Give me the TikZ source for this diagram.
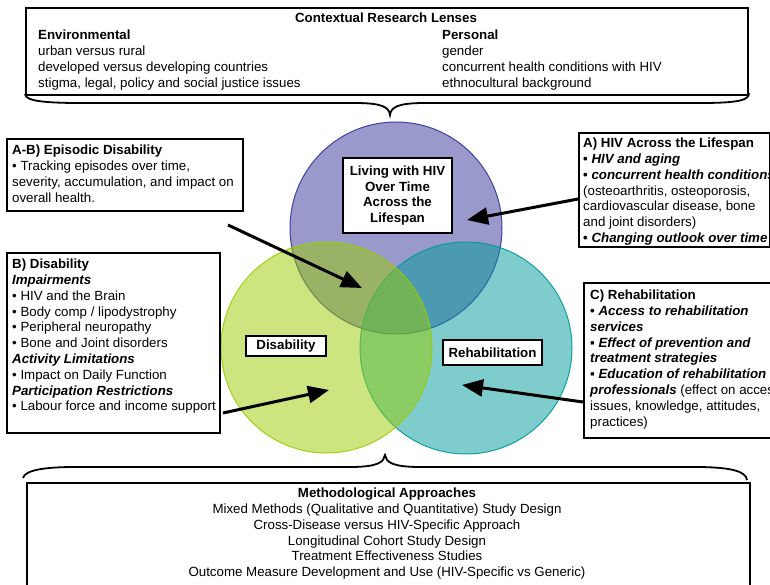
\documentclass[tikz,border=0pt]{standalone}
\usepackage{fontspec}
\setmainfont{Liberation Sans}
\usetikzlibrary{arrows.meta}
\definecolor{pur}{RGB}{51,51,153}
\definecolor{grn}{RGB}{153,204,0}
\definecolor{tea}{RGB}{0,153,153}
\begin{document}
\begin{tikzpicture}[x=1pt,y=-1pt,
  every node/.style={font=\fontsize{13.3}{15.8}\selectfont, inner sep=0pt},
  txt/.style={anchor=north west, align=left},
  frame/.style={draw=black, line width=1.8pt, anchor=north west},
  lbl/.style={draw=black, line width=1.8pt, fill=white, align=center, font=\fontsize{13.3}{15.8}\selectfont\bfseries},
  venn/.style={fill opacity=0.5, draw opacity=0.9, line width=1pt},
  arr/.style={line width=3pt, -{Triangle[length=21pt,width=17pt]}},
  brace/.style={line width=1.8pt}
]
\useasboundingbox (0,0) rectangle (770,585);
\clip (0,0) rectangle (770,585);

% Venn circles
\path[venn, fill=pur, draw=pur] (396,228) circle[radius=106pt];
\path[venn, fill=tea, draw=tea] (466,348) circle[radius=106pt];
\path[venn, fill=grn, draw=grn] (326.5,347.5) circle[radius=105.5pt];

% frames
\node[frame, minimum width=722pt, minimum height=87pt] (topbox) at (25,7) {};
\node[frame, minimum width=236pt, minimum height=72pt] (abbox) at (6,138) {};
\node[frame, minimum width=213pt, minimum height=180pt] (bbox) at (6,252) {};
\node[frame, minimum width=191pt, minimum height=114pt] (abox) at (578,132) {};
\node[frame, minimum width=217pt, minimum height=155pt] (cbox) at (583,282) {};
\node[frame, minimum width=723pt, minimum height=138pt] (botbox) at (26,482) {};

% braces
\draw[brace] (25,94) .. controls (25,101) and (45,103) .. (80,103) -- (355,103)
  .. controls (382,103) and (389,107) .. (390,115)
  .. controls (391,107) and (398,103) .. (425,103) -- (700,103)
  .. controls (740,103) and (749,100) .. (749,93);
\draw[brace] (23,478) .. controls (25,470) and (45,467) .. (75,467) -- (350,467)
  .. controls (378,467) and (384,462) .. (385,455)
  .. controls (386,462) and (392,467) .. (420,467) -- (695,467)
  .. controls (730,467) and (746,471) .. (747,480);

% top box text
\node[anchor=base, font=\fontsize{13.3}{15.8}\selectfont\bfseries] (ttl) at (386,23) {Contextual Research Lenses};
\node[txt] (env) at (38,28.4) {\strut\textbf{Environmental}\\urban versus rural\\developed versus developing countries\\stigma, legal, policy and social justice issues};
\node[txt] (pers) at (442,28.4) {\strut\textbf{Personal}\\gender\\concurrent health conditions with HIV\\ethnocultural background};

% side texts
\node[txt] (abt) at (12,143.4) {\strut\textbf{A-B) Episodic Disability}\\• Tracking episodes over time,\\severity, accumulation, and impact on\\overall health.};
\node[txt] (bt) at (12,257.4) {\strut\textbf{B) Disability}\\\textbf{\textit{Impairments}}\\• HIV and the Brain\\• Body comp / lipodystrophy\\• Peripheral neuropathy\\• Bone and Joint disorders\\\textbf{\textit{Activity Limitations}}\\• Impact on Daily Function\\\textbf{\textit{Participation Restrictions}}\\• Labour force and income support};
\node[txt] (at) at (583,136.4) {\strut\textbf{A) HIV Across the Lifespan}\\\textbf{• \textit{HIV and aging}}\\\textbf{• \textit{concurrent health conditions}}\\(osteoarthritis, osteoporosis,\\cardiovascular disease, bone\\and joint disorders)\\\textbf{• \textit{Changing outlook over time}}};
\node[txt] (ct) at (590,288.4) {\strut\textbf{C) Rehabilitation}\\\textbf{• \textit{Access to rehabilitation}}\\\textbf{\textit{services}}\\\textbf{▪ \textit{Effect of prevention and}}\\\textbf{\textit{treatment strategies}}\\\textbf{▪ \textit{Education of rehabilitation}}\\\textbf{\textit{professionals}} (effect on access\\issues, knowledge, attitudes,\\practices)};

% bottom text
\node[anchor=north, align=center] (mt) at (387,486.4) {\strut\textbf{Methodological Approaches}\\Mixed Methods (Qualitative and Quantitative) Study Design\\Cross-Disease versus HIV-Specific Approach\\Longitudinal Cohort Study Design\\Treatment Effectiveness Studies\\Outcome Measure Development and Use (HIV-Specific vs Generic)};

% circle labels
\node[lbl, minimum width=109pt, minimum height=75pt] (hiv) at (397.5,195.5) {Living with HIV\\Over Time\\Across the\\Lifespan};
\node[lbl, minimum width=80pt, minimum height=20pt] (dis) at (286,346) {Disability};
\node[lbl, minimum width=99pt, minimum height=25pt] (reh) at (492.5,352.5) {Rehabilitation};

% arrows
\coordinate (a1s) at (228,225); \coordinate (a1e) at (362,288);
\coordinate (a2s) at (578,199); \coordinate (a2e) at (467,220);
\coordinate (a3s) at (223,413); \coordinate (a3e) at (329,390);
\coordinate (a4s) at (583,402); \coordinate (a4e) at (462,385);
\draw[arr] (a1s) -- (a1e);
\draw[arr] (a2s) -- (a2e);
\draw[arr] (a3s) -- (a3e);
\draw[arr] (a4s) -- (a4e);
\end{tikzpicture}
\end{document}
